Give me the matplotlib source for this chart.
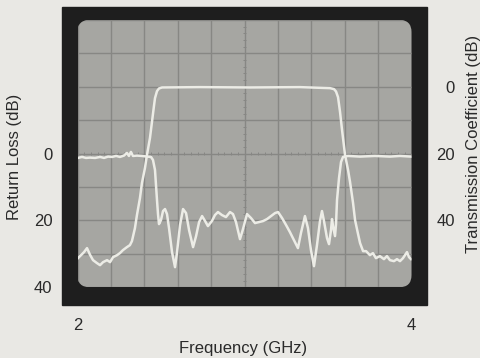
"""ネットワークアナライザ画面風のフィルタ特性（反射損失・透過係数）を再現する。"""

import matplotlib

matplotlib.use("Agg")

import matplotlib.pyplot as plt
import numpy as np
from matplotlib.patches import FancyBboxPatch, Rectangle

plt.rcParams["font.family"] = ["Liberation Sans", "DejaVu Sans"]

# ---------------------------------------------------------------------------
# データ (画面から読み取った値)
# ---------------------------------------------------------------------------

# 透過係数 (右軸, dB)
freq_t = [
    2.003, 2.039, 2.057, 2.075, 2.093, 2.117, 2.135, 2.153, 2.177, 2.195,
    2.213, 2.237, 2.254, 2.272, 2.296, 2.314, 2.326, 2.344, 2.356, 2.374,
    2.386, 2.404, 2.416, 2.434, 2.446, 2.458, 2.464, 2.476, 2.488, 2.506,
    2.734, 3.033, 3.332, 3.512, 3.536, 3.548, 3.560, 3.572, 3.584, 3.602,
    3.620, 3.632, 3.650, 3.662, 3.680, 3.692, 3.710, 3.728, 3.751, 3.769,
    3.787, 3.811, 3.835, 3.853, 3.871, 3.895, 3.913, 3.931, 3.949, 3.973,
    3.985, 3.997,
]
trans_db = [
    51.3, 49.5, 48.3, 50.3, 51.9, 52.8, 53.4, 52.5, 51.9, 52.5,
    51.0, 50.4, 49.8, 48.9, 48.0, 47.4, 46.2, 42.3, 38.4, 33.3,
    28.8, 24.3, 20.4, 15.3, 10.5, 5.7, 3.4, 1.3, 0.5, 0.2,
    0.1, 0.2, 0.1, 0.4, 0.7, 1.4, 3.1, 7.5, 12.9, 20.4,
    24.9, 28.5, 34.8, 39.9, 44.1, 46.8, 49.2, 49.2, 50.4, 49.8,
    51.3, 50.7, 51.6, 50.7, 51.9, 52.2, 51.6, 52.2, 51.3, 49.5,
    51.0, 51.6,
]

# 反射損失 (左軸, dB)
freq_rl = [
    2.003, 2.027, 2.051, 2.075, 2.105, 2.135, 2.159, 2.183, 2.207, 2.231,
    2.254, 2.278, 2.296, 2.308, 2.320, 2.332, 2.356, 2.386, 2.416, 2.440,
    2.452, 2.464, 2.470, 2.476, 2.482, 2.488, 2.500, 2.512, 2.524, 2.536,
    2.548, 2.566, 2.584, 2.596, 2.614, 2.632, 2.650, 2.668, 2.692, 2.710,
    2.728, 2.746, 2.764, 2.781, 2.805, 2.823, 2.841, 2.865, 2.889, 2.913,
    2.931, 2.949, 2.973, 2.991, 3.015, 3.039, 3.063, 3.087, 3.111, 3.135,
    3.159, 3.183, 3.201, 3.225, 3.249, 3.272, 3.296, 3.320, 3.338, 3.362,
    3.380, 3.398, 3.416, 3.434, 3.452, 3.464, 3.476, 3.494, 3.506, 3.518,
    3.524, 3.530, 3.542, 3.548, 3.554, 3.566, 3.578, 3.590, 3.620, 3.692,
    3.781, 3.871, 3.931, 3.997,
]
return_loss_db = [
    1.3, 1.0, 1.3, 1.2, 1.3, 1.0, 1.3, 0.9, 1.0, 0.7,
    1.0, 0.6, -0.2, 0.7, -0.5, 0.7, 0.6, 0.7, 0.9, 1.0,
    1.9, 4.9, 9.4, 13.9, 18.1, 21.1, 19.9, 17.2, 16.6, 18.1,
    22.3, 29.5, 34.0, 29.5, 21.4, 16.6, 17.8, 22.9, 28.0, 24.7,
    20.5, 18.7, 20.2, 21.7, 20.2, 18.4, 17.5, 18.4, 19.0, 17.5,
    18.1, 20.5, 25.6, 22.6, 18.1, 19.3, 20.8, 20.5, 20.2, 19.6,
    18.7, 17.8, 17.5, 19.3, 21.4, 23.5, 25.9, 28.3, 23.8, 18.7,
    22.3, 28.9, 33.7, 27.4, 20.2, 17.2, 20.2, 25.3, 27.1, 22.9,
    19.6, 21.7, 24.7, 21.1, 13.9, 7.3, 2.5, 1.0, 0.7, 0.9,
    0.7, 0.9, 0.7, 0.9,
]

rl_tick_labels = ["0", "20", "40"]
t_tick_labels = ["0", "20", "40"]
freq_tick_labels = ["2", "4"]

# ---------------------------------------------------------------------------
# 色
# ---------------------------------------------------------------------------
_PAPER = "#e9e8e4"
_FRAME = "#1e1e1e"
_SCREEN = "#a6a6a2"
_GRID = "#878784"
_TRACE = "#ececE6"
_TEXT = "#2a2a2a"

W, H = 481, 358
fig = plt.figure(figsize=(W / 100, H / 100), dpi=100, facecolor=_PAPER)

# --- 画面の黒枠 ---
fig.patches.append(
    Rectangle((62 / W, 1 - 305 / H), (427 - 62) / W, (305 - 7) / H,
              transform=fig.transFigure, color=_FRAME, zorder=-5)
)

ax = fig.add_axes([77.5 / W, 1 - 287.2 / H, 334 / W, 267.2 / H])
ax.set_facecolor("none")
for s in ax.spines.values():
    s.set_visible(False)

# --- 角丸スクリーン ---
screen = FancyBboxPatch(
    (0, 0), 1, 1, boxstyle="round,pad=0,rounding_size=0.036",
    mutation_aspect=334 / 267.2, transform=ax.transAxes,
    facecolor=_SCREEN, edgecolor="none", zorder=0.2,
)
ax.add_patch(screen)

# --- 目盛り (10 x 8 マス) ---
ax.set_xlim(2, 4)
ax.set_ylim(40, -40)
ax.set_xticks(np.linspace(2, 4, 11))
ax.set_yticks(np.linspace(-40, 40, 9))
ax.set_xticklabels([freq_tick_labels[0]] + [""] * 9 + [freq_tick_labels[1]])
ax.set_yticklabels(["", "", "", ""] + rl_tick_labels[:1] + [""] + rl_tick_labels[1:2] + [""] + rl_tick_labels[2:])
ax.tick_params(axis="x", length=0, pad=22, labelsize=12, labelcolor=_TEXT)
ax.tick_params(axis="y", length=0, pad=18, labelsize=12, labelcolor=_TEXT)
ax.set_axisbelow("line")
ax.grid(True, color=_GRID, linewidth=1.0)
for gl in ax.get_xgridlines() + ax.get_ygridlines():
    gl.set_clip_path(screen)

# 中央線の細目盛り
ax.vlines(np.linspace(2, 4, 51), -0.5, 0.5, color=_GRID, linewidth=0.7, zorder=1.5)
ax.hlines(np.linspace(-40, 40, 41), 2.99, 3.01, color=_GRID, linewidth=0.7, zorder=1.5)

# --- 反射損失 (左軸) ---
rl_line, = ax.plot(freq_rl, return_loss_db, color=_TRACE, linewidth=1.8,
                   solid_joinstyle="round", zorder=3)
rl_line.set_clip_path(screen)

# --- 透過係数 (右軸) ---
ax2 = ax.twinx()
ax2.set_facecolor("none")
for s in ax2.spines.values():
    s.set_visible(False)
ax2.set_ylim(60, -20)
ax2.set_yticks([0, 20, 40])
ax2.set_yticklabels(t_tick_labels)
ax2.tick_params(axis="y", length=0, pad=31.3, labelsize=12, labelcolor=_TEXT)
for lbl in ax2.get_yticklabels():
    lbl.set_horizontalalignment("right")
t_line, = ax2.plot(freq_t, trans_db, color=_TRACE, linewidth=1.8,
                   solid_joinstyle="round", zorder=3)
t_line.set_clip_path(screen)

# --- 軸タイトル ---
fig.text(14.5 / W, 1 - 156.5 / H, "Return Loss (dB)", rotation=90,
         ha="center", va="center", fontsize=12, color=_TEXT)
fig.text(474 / W, 1 - 144 / H, "Transmission Coefficient (dB)", rotation=90,
         ha="center", va="center", fontsize=12, color=_TEXT)
fig.text(243 / W, 1 - 349 / H, "Frequency (GHz)",
         ha="center", va="center", fontsize=12, color=_TEXT)

fig.savefig("out.png", dpi=100, facecolor=_PAPER)
plt.close(fig)
